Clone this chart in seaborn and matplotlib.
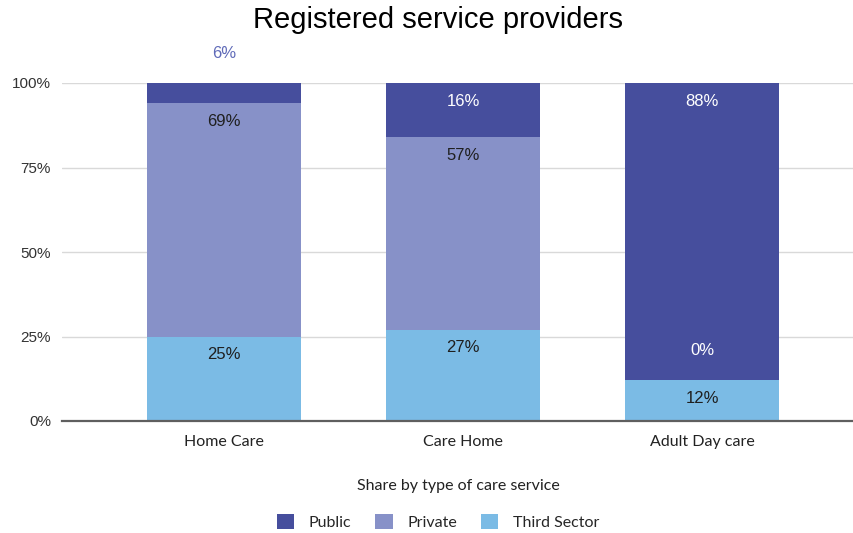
import numpy as np
import pandas as pd
import seaborn as sns
import matplotlib.pyplot as plt
from matplotlib.patches import Patch

# data (shares in %)
categories = ['Home Care', 'Care Home', 'Adult Day care']
series_names = ['Third Sector', 'Private', 'Public']  # bottom -> top
third_sector = [25, 27, 12]
private = [69, 57, 0]
public = [6, 16, 88]
colors = {'Public': '#464e9d', 'Private': '#8791c8', 'Third Sector': '#7bbbe5'}
label_colors = {'Public': 'white', 'Private': '#1f1f1f', 'Third Sector': '#1f1f1f'}

sns.set_style('white')
plt.rcParams['font.family'] = ['Liberation Sans', 'DejaVu Sans']

fig = plt.figure(figsize=(8.54, 5.33), dpi=100)
ax = fig.add_axes([62 / 854, 112 / 533, 792 / 854, 338 / 533])

df = pd.DataFrame({'category': categories, 'Third Sector': third_sector,
                   'Private': private, 'Public': public})

bottom = np.zeros(len(categories))
for name in series_names:
    vals = df[name].to_numpy(dtype=float)
    sns.barplot(x=np.arange(len(categories)), y=vals / 100, bottom=bottom / 100,
                color=colors[name], saturation=1, width=0.645, ax=ax, native_scale=True,
                linewidth=0, zorder=3)
    for i, v in enumerate(vals):
        top = (bottom[i] + v) / 100
        if v < 8:
            # small segment: label sits above
            col = '#5f6ab8' if top >= 0.999 else 'white'
            ax.annotate(f'{int(v)}%', (i, top), xytext=(0, 30), textcoords='offset pixels',
                        ha='center', va='center', fontsize=12, color=col,
                        annotation_clip=False, zorder=5)
        else:
            ax.annotate(f'{int(v)}%', (i, top), xytext=(0, -18), textcoords='offset pixels',
                        ha='center', va='center', fontsize=12, color=label_colors[name],
                        zorder=5)
    bottom = bottom + vals

ax.set_xlim(-0.678, 2.636)
ax.set_ylim(0, 1)
ax.set_xticks(range(len(categories)))
ax.set_xticklabels(categories, family=['Lato', 'DejaVu Sans'], fontsize=11.5, color='#222222')
ax.set_yticks([0, 0.25, 0.5, 0.75, 1.0])
ax.set_yticklabels(['0%', '25%', '50%', '75%', '100%'], fontsize=11, color='#333333')
ax.tick_params(length=0, pad=10)
ax.tick_params(axis='y', pad=8)
ax.yaxis.grid(True, color='#d9d9d9', linewidth=1, zorder=0)
ax.xaxis.grid(False)
for s in ['top', 'right', 'left']:
    ax.spines[s].set_visible(False)
ax.spines['bottom'].set_color('#5f5f5f')
ax.spines['bottom'].set_linewidth(1.6)
ax.spines['bottom'].set_zorder(4)

ax.set_xlabel('Share by type of care service', family=['Lato', 'DejaVu Sans'],
              fontsize=11.5, color='#222222', labelpad=22)
ax.set_ylabel('')

fig.text(438 / 854, 1 - 20 / 533, 'Registered service providers', ha='center', va='center',
         fontsize=21, color='black')

handles = [Patch(facecolor=colors[n], edgecolor='none') for n in ['Public', 'Private', 'Third Sector']]
fig.legend(handles, ['Public', 'Private', 'Third Sector'], loc='center',
           bbox_to_anchor=(438 / 854, 1 - 522 / 533), ncol=3, frameon=False,
           prop={'family': ['Lato', 'DejaVu Sans'], 'size': 11.5},
           handlelength=1.1, handleheight=1.1, columnspacing=1.5, handletextpad=0.9)

fig.savefig('out.png', dpi=100)
